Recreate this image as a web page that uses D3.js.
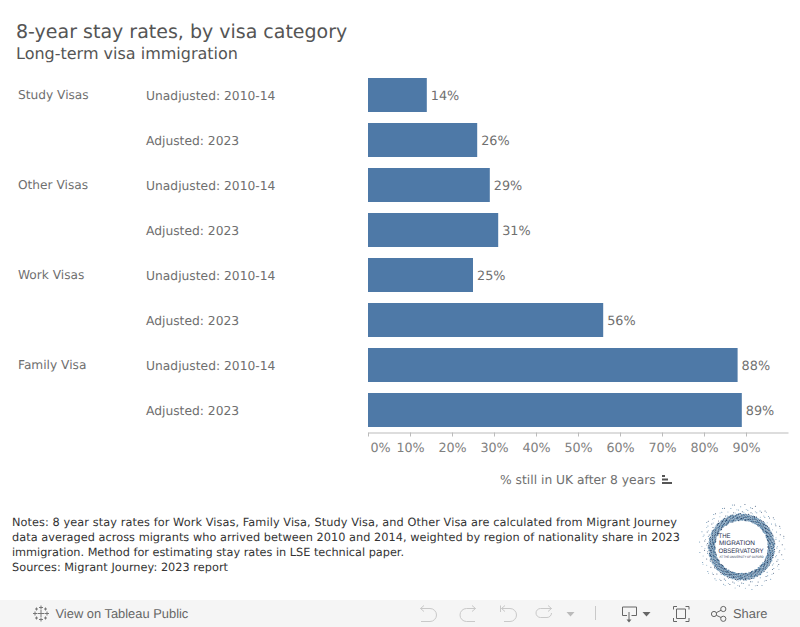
<!DOCTYPE html>
<meta charset="utf-8">
<style>
html, body { margin: 0; padding: 0; background: #fff; }
svg { display: block; }
text { font-family: "DejaVu Sans", Verdana, sans-serif; text-rendering: geometricPrecision; }
</style>
<svg width="800" height="627"></svg>
<script src="https://d3js.org/d3.v7.min.js"></script>
<script>

var groups = ["Study Visas", "Other Visas", "Work Visas", "Family Visa"];
var rowGroups = ["Study Visas", "Study Visas", "Other Visas", "Other Visas", "Work Visas", "Work Visas", "Family Visa", "Family Visa"];
var rowPeriods = ["Unadjusted: 2010-14", "Adjusted: 2023", "Unadjusted: 2010-14", "Adjusted: 2023", "Unadjusted: 2010-14", "Adjusted: 2023", "Unadjusted: 2010-14", "Adjusted: 2023"];
var values = [14, 26, 29, 31, 25, 56, 88, 89];
var xTicks = [0, 10, 20, 30, 40, 50, 60, 70, 80, 90];
var noteLines = [
  "Notes: 8 year stay rates for Work Visas, Family Visa, Study Visa, and Other Visa are calculated from Migrant Journey",
  "data averaged across migrants who arrived between 2010 and 2014, weighted by region of nationality share in 2023",
  "immigration. Method for estimating stay rates in LSE technical paper.",
  "Sources: Migrant Journey: 2023 report"
];
var noteWidths = [665, 668, 392, 216];

var svg = d3.select("svg");

var x = d3.scaleLinear().domain([0, 100]).range([368, 788]);
var y = d3.scaleBand()
    .domain(d3.range(values.length))
    .range([72.5, 432.5])
    .paddingInner(11 / 45)
    .paddingOuter(5.5 / 45);

// titles
svg.append("text").attr("x", 16).attr("y", 38)
    .style("font-size", "19px").style("fill", "#555").text("8-year stay rates, by visa category");
svg.append("text").attr("x", 16).attr("y", 59)
    .style("font-size", "16px").style("fill", "#555").text("Long-term visa immigration");

// bars
svg.append("g").selectAll("rect")
    .data(values)
    .enter().append("rect")
    .attr("x", x(0))
    .attr("y", function(d, i) { return y(i); })
    .attr("width", function(d) { return x(d) - x(0); })
    .attr("height", y.bandwidth())
    .style("fill", "#4e79a7");

svg.append("g").selectAll("text")
    .data(values)
    .enter().append("text")
    .attr("x", function(d) { return x(d) + 4; })
    .attr("y", function(d, i) { return y(i) + y.bandwidth() / 2 + 5; })
    .style("font-size", "12.8px").style("fill", "#6f6f6f")
    .text(function(d) { return d + "%"; });

// row headers
svg.append("g").selectAll("text")
    .data(rowPeriods)
    .enter().append("text")
    .attr("x", 146)
    .attr("y", function(d, i) { return y(i) + y.bandwidth() / 2 + 4.5; })
    .style("font-size", "12.3px").style("fill", "#6f6f6f")
    .text(function(d) { return d; });

svg.append("g").selectAll("text")
    .data(groups)
    .enter().append("text")
    .attr("x", 18)
    .attr("y", function(d) { return y(rowGroups.indexOf(d)) + y.bandwidth() / 2 + 4; })
    .style("font-size", "12.2px").style("fill", "#6f6f6f")
    .text(function(d) { return d; });

// x axis
var axis = svg.append("g")
    .attr("transform", "translate(0,432.5)")
    .call(d3.axisBottom(x).tickValues(xTicks).tickSize(4).tickSizeOuter(0)
      .tickFormat(function(d) { return d + "%"; }));
axis.select(".domain").style("stroke", "#bbb");
axis.selectAll(".tick line").style("stroke", "#bbb");
axis.selectAll(".tick text")
    .attr("y", 10)
    .attr("dy", "0.71em")
    .style("font-size", "12.7px").style("font-family", '"DejaVu Sans", Verdana, sans-serif').style("fill", "#808080");
axis.selectAll(".tick").filter(function(d) { return d === 0; }).select("text")
    .attr("text-anchor", "start").attr("x", 2);

svg.append("text").attr("x", 500).attr("y", 484)
    .style("font-size", "12.3px").style("fill", "#6f6f6f").text("% still in UK after 8 years");

// sort icon
var sortIcon = svg.append("g").attr("transform", "translate(662,475)").style("fill", "#555");
sortIcon.append("rect").attr("x", 0).attr("y", 0).attr("width", 3).attr("height", 2);
sortIcon.append("rect").attr("x", 0).attr("y", 3.5).attr("width", 6).attr("height", 2);
sortIcon.append("rect").attr("x", 0).attr("y", 7).attr("width", 10).attr("height", 2);

// notes
svg.append("g").selectAll("text")
    .data(noteLines)
    .enter().append("text")
    .attr("x", 12)
    .attr("y", function(d, i) { return 526 + i * 15; })
    .attr("textLength", function(d, i) { return noteWidths[i]; })
    .style("font-size", "11.3px").style("fill", "#333")
    .text(function(d) { return d; });

// logo: speckled ring with the observatory name inside
var logo = svg.append("g").attr("transform", "translate(741.5,547)");
var ring = logo.append("g");
d3.range(1100).forEach(function(i) {
  var a = i * 2.39996;
  var t = (i * 0.7548777) % 1;
  var r = 26.5 + (t < 0.85 ? t * 8 : 6.8 + (t - 0.85) * 70);
  ring.append("circle")
      .attr("cx", r * Math.cos(a))
      .attr("cy", r * Math.sin(a))
      .attr("r", t < 0.85 ? 0.75 : 0.5)
      .style("fill", i % 3 === 0 ? "#1f3a5f" : i % 3 === 1 ? "#3f75a0" : "#7fa3bf")
      .style("opacity", 0.85);
});
[["THE", -9.5, 12, -23], ["MIGRATION", -2, 36, -22.5], ["OBSERVATORY", 5.5, 45, -23]].forEach(function(l) {
  logo.append("text").attr("x", l[3]).attr("y", l[1])
      .attr("textLength", l[2]).attr("lengthAdjust", "spacingAndGlyphs")
      .style("font-family", '"Liberation Sans", sans-serif').style("font-size", "6.5px")
      .style("fill", "#1f2f4f").text(l[0]);
});
logo.append("text").attr("x", -22).attr("y", 10.5)
    .attr("textLength", 44).attr("lengthAdjust", "spacingAndGlyphs")
    .style("font-family", '"Liberation Sans", sans-serif').style("font-size", "3.2px").style("fill", "#1f2f4f")
    .text("AT THE UNIVERSITY OF OXFORD");

// toolbar
var bar = svg.append("g");
bar.append("rect").attr("x", 0).attr("y", 600).attr("width", 800).attr("height", 27).style("fill", "#f5f5f5");
bar.append("text").attr("x", 55.5).attr("y", 618)
    .style("font-family", '"Liberation Sans", Arial, sans-serif').style("font-size", "12.9px").style("fill", "#666")
    .text("View on Tableau Public");
bar.append("text").attr("x", 733).attr("y", 618)
    .style("font-family", '"Liberation Sans", Arial, sans-serif').style("font-size", "12.9px").style("fill", "#666")
    .text("Share");

// tableau mark
var mark = bar.append("g").attr("transform", "translate(41,613.5)").style("stroke", "#777").style("fill", "none");
[[0, 0, 3.5], [-6, 0, 2], [6, 0, 2], [0, -6, 2], [0, 6, 2], [-4.5, -4.5, 1.5], [4.5, -4.5, 1.5], [-4.5, 4.5, 1.5], [4.5, 4.5, 1.5]].forEach(function(p) {
  mark.append("path").attr("d",
    "M" + (p[0] - p[2]) + "," + p[1] + "H" + (p[0] + p[2]) + "M" + p[0] + "," + (p[1] - p[2]) + "V" + (p[1] + p[2]));
});

function icon(d, col) {
  bar.append("path").attr("d", d).style("fill", "none").style("stroke", col).style("stroke-width", 1);
}
var dim = "#c9c9c9", dark = "#666";
icon("M424,605.5 L420.5,608.5 L424,611.5 M420.5,608.5 H430 a6.5,6.5 0 0 1 0,13 H421", dim);
icon("M472,605.5 L475.5,608.5 L472,611.5 M475.5,608.5 H466.5 a6.5,6.5 0 0 0 0,13 H475", dim);
icon("M500.5,605.5 V612 M505,605.5 L501.5,608.5 L505,611.5 M501.5,608.5 H510 a6.5,6.5 0 0 1 0,13 H504", dim);
icon("M548,605.5 L551.5,608.5 L548,611.5 M551.5,608.5 H540.5 a4.5,4.5 0 0 0 0,9 H547 a4.5,4.5 0 0 0 4.5,-4.5", dim);
bar.append("path").attr("d", "M566.5,612 h8 l-4,4.5 z").style("fill", "#bbb");
icon("M595.5,606 V620", dim);
icon("M627,615.5 H622.5 V607 H636.5 V615.5 H631.5 M629,612 V621", dark);
bar.append("path").attr("d", "M626.5,619.5 h5 l-2.5,3 z").style("fill", dark);
bar.append("path").attr("d", "M642.5,612 h8 l-4,4.5 z").style("fill", dark);
icon("M673.5,609.5 V606.5 H677 M685.5,606.5 H689 V609.5 M689,618 V621.5 H685.5 M677,621.5 H673.5 V618 M676.5,609 H685.5 V618.5 H676.5 Z", dark);
icon("M716.3,612.7 L721,610.3 M716.3,615.3 L721,617.5", dark);
bar.append("circle").attr("cx", 714).attr("cy", 614).attr("r", 2.6).style("fill", "none").style("stroke", dark);
bar.append("circle").attr("cx", 723.3).attr("cy", 609).attr("r", 2.6).style("fill", "none").style("stroke", dark);
bar.append("circle").attr("cx", 723.3).attr("cy", 618.8).attr("r", 2.6).style("fill", "none").style("stroke", dark);

</script>
